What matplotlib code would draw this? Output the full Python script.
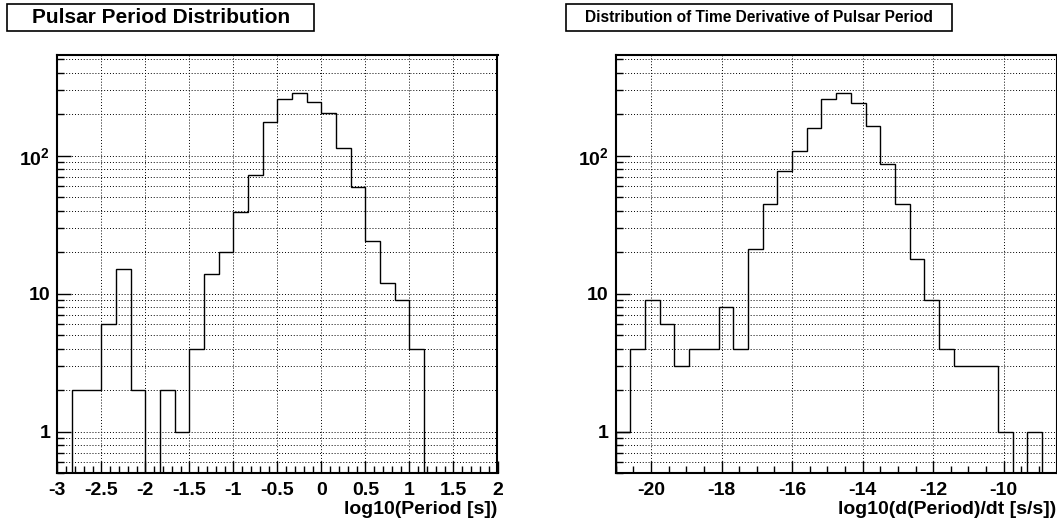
import numpy as np
import matplotlib
matplotlib.use("Agg")
import matplotlib.pyplot as plt
from matplotlib.ticker import MultipleLocator, LogLocator, FixedLocator, NullFormatter, FuncFormatter
from matplotlib.patches import Rectangle

plt.rcParams['font.family'] = ['Liberation Sans', 'DejaVu Sans']
plt.rcParams['font.weight'] = 'bold'
plt.rcParams['mathtext.fontset'] = 'custom'
plt.rcParams['mathtext.rm'] = 'Liberation Sans:bold'
plt.rcParams['mathtext.bf'] = 'Liberation Sans:bold'
plt.rcParams['axes.unicode_minus'] = False

# histogram counts (30 bins each)
period_counts = [0, 2, 2, 6, 15, 2, 0, 2, 1, 4, 14, 20, 39, 73, 176, 258, 286, 244,
                 205, 113, 59, 24, 12, 9, 4, 0, 0, 0, 0, 0]
period_range = (-3.0, 2.0)

pdot_counts = [1, 4, 9, 6, 3, 4, 4, 8, 4, 21, 45, 77, 109, 160, 258, 286, 242, 163,
               87, 45, 18, 9, 4, 3, 3, 3, 1, 0, 1, 0]
pdot_range = (-21.0, -8.5)

titles = ["Pulsar Period Distribution", "Distribution of Time Derivative of Pulsar Period"]
xtitles = ["log10(Period [s])", "log10(d(Period)/dt [s/s])"]

W, H = 1057, 522
fig = plt.figure(figsize=(W / 100, H / 100), dpi=100)


def px_axes(x0, y0, x1, y1):
    return fig.add_axes([x0 / W, 1 - y1 / H, (x1 - x0) / W, (y1 - y0) / H])


ax1 = px_axes(57.3, 54.7, 497.5, 473.3)
ax2 = px_axes(615.7, 54.7, 1056.6, 473.3)

ylab = {1: "1", 10: "10", 100: r"$\mathbf{10^{2}}$"}


def style(ax, counts, xr, major, minor):
    edges = np.linspace(xr[0], xr[1], len(counts) + 1)
    vals = np.where(np.array(counts) > 0, counts, 1e-3)
    ax.stairs(vals, edges, baseline=1e-3, color='black', lw=1.0)
    ax.set_yscale('log')
    ax.set_xlim(*xr)
    ax.set_ylim(0.5, 540)
    ax.xaxis.set_major_locator(MultipleLocator(major))
    ax.xaxis.set_minor_locator(MultipleLocator(minor))
    ax.xaxis.set_major_formatter(FuncFormatter(lambda v, p: "%g" % round(v, 6)))
    ax.yaxis.set_major_locator(FixedLocator([1, 10, 100]))
    ax.yaxis.set_major_formatter(FuncFormatter(lambda v, p: ylab.get(int(round(v)), "")))
    ax.yaxis.set_minor_locator(LogLocator(base=10, subs=np.arange(2, 10)))
    ax.yaxis.set_minor_formatter(NullFormatter())
    ax.tick_params(which='both', direction='in', top=False, right=False, labelsize=14)
    ax.tick_params(axis='x', which='major', length=8.5, width=1.0, pad=6)
    ax.tick_params(axis='x', which='minor', length=4.8, width=1.0)
    ax.tick_params(axis='y', which='major', length=10, width=1.0, pad=5)
    ax.tick_params(axis='y', which='minor', length=5.2, width=1.0)
    ax.grid(True, which='major', axis='x', color='black', lw=0.7, ls=(0, (1, 2)))
    ax.grid(True, which='both', axis='y', color='black', lw=0.7, ls=(0, (1, 2)))
    for s in ax.spines.values():
        s.set_linewidth(1.5)


style(ax1, period_counts, period_range, 0.5, 0.1)
style(ax2, pdot_counts, pdot_range, 2, 0.5)

ax1.set_xlabel(xtitles[0], loc='right', fontsize=14, fontweight='bold', labelpad=2)
ax2.set_xlabel(xtitles[1], loc='right', fontsize=14, fontweight='bold', labelpad=2)

# title boxes
boxes = [(7.3, 4, 314, 31, 15), (566, 4, 952.3, 31, 11.2)]
for (x0, y0, x1, y1, fs), t in zip(boxes, titles):
    fig.patches.append(Rectangle((x0 / W, 1 - y1 / H), (x1 - x0) / W, (y1 - y0) / H,
                                 transform=fig.transFigure, fill=False, ec='black', lw=1.2))
    fig.text((x0 + x1) / 2 / W, 1 - (y0 + y1) / 2 / H, t, ha='center', va='center',
             fontsize=fs, fontweight='bold')

fig.savefig("out.png", dpi=100)
